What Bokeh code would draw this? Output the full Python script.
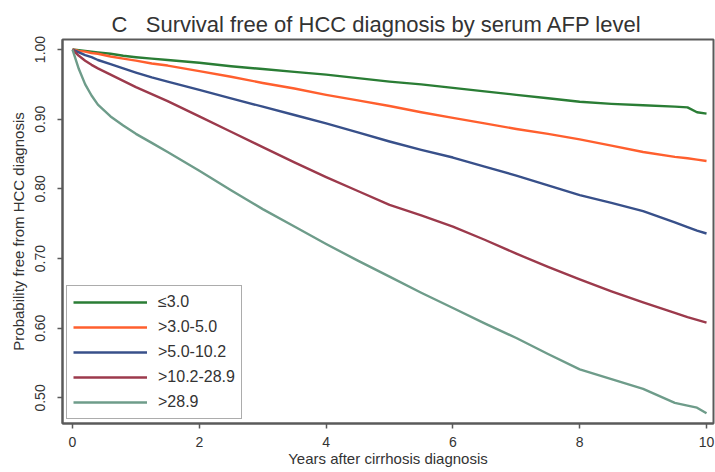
from bokeh.plotting import figure
from bokeh.models import Range1d, FixedTicker, NumeralTickFormatter, Legend, LegendItem
from bokeh.embed import file_html
from bokeh.resources import INLINE

# Kaplan-Meier style survival free of HCC, by serum AFP group
years = [0, 0.1, 0.2, 0.3, 0.4, 0.6, 0.8, 1.0, 1.25, 1.5, 2, 2.5, 3, 3.5, 4,
         4.5, 5, 5.5, 6, 6.5, 7, 7.5, 8, 8.5, 9, 9.5, 9.7, 9.85, 10]

afp_le3 = [1.000, 0.999, 0.998, 0.997, 0.996, 0.994, 0.991, 0.989, 0.987, 0.985,
           0.981, 0.976, 0.972, 0.968, 0.964, 0.959, 0.954, 0.950, 0.945, 0.940,
           0.935, 0.930, 0.925, 0.922, 0.920, 0.918, 0.917, 0.910, 0.908]
afp_3_5 = [1.000, 0.998, 0.997, 0.995, 0.994, 0.990, 0.987, 0.984, 0.980, 0.977,
           0.969, 0.961, 0.952, 0.944, 0.935, 0.927, 0.919, 0.910, 0.902, 0.894,
           0.886, 0.879, 0.871, 0.862, 0.853, 0.846, 0.844, 0.842, 0.840]
afp_5_10 = [1.000, 0.996, 0.992, 0.989, 0.985, 0.979, 0.973, 0.967, 0.960, 0.954,
            0.942, 0.930, 0.918, 0.906, 0.894, 0.881, 0.868, 0.856, 0.845, 0.832,
            0.819, 0.805, 0.791, 0.780, 0.768, 0.752, 0.745, 0.740, 0.736]
afp_10_29 = [1.000, 0.991, 0.984, 0.978, 0.973, 0.964, 0.955, 0.946, 0.936, 0.926,
             0.904, 0.882, 0.860, 0.838, 0.817, 0.797, 0.777, 0.762, 0.746, 0.727,
             0.707, 0.688, 0.670, 0.653, 0.637, 0.622, 0.616, 0.612, 0.608]
afp_gt29 = [1.000, 0.972, 0.950, 0.934, 0.921, 0.904, 0.891, 0.879, 0.866, 0.853,
            0.826, 0.798, 0.771, 0.746, 0.721, 0.697, 0.674, 0.651, 0.629, 0.607,
            0.586, 0.563, 0.541, 0.527, 0.513, 0.493, 0.489, 0.486, 0.478]

group_labels = ["\u22643.0", ">3.0-5.0", ">5.0-10.2", ">10.2-28.9", ">28.9"]
group_colors = ["#2a7d35", "#ff5f2e", "#38508a", "#9c3a4c", "#6e9c8a"]

x_ticks = [0, 2, 4, 6, 8, 10]
y_ticks = [0.5, 0.6, 0.7, 0.8, 0.9, 1.0]

FONT = "Liberation Sans"
TEXT = "#333333"

p = figure(width=715, height=472, output_backend="svg", toolbar_location=None,
           x_range=Range1d(-0.158, 10.11), y_range=Range1d(0.4633, 1.0144),
           min_border_left=62, min_border_right=2, min_border_top=39,
           min_border_bottom=49)

p.title.text = "C\u00a0\u00a0\u00a0Survival free of HCC diagnosis by serum AFP level"
p.title.text_font = FONT
p.title.text_font_size = "22px"
p.title.text_font_style = "normal"
p.title.text_color = TEXT
p.title.offset = 49
p.title.standoff = 6

p.grid.visible = False
p.outline_line_color = "#5a5a5a"
p.outline_line_width = 2
p.background_fill_color = "white"
p.border_fill_color = "white"

series = [afp_le3, afp_3_5, afp_5_10, afp_10_29, afp_gt29]
renderers = []
for vals, col in zip(series, group_colors):
    r = p.line(years, vals, line_color=col, line_width=2.4, line_join="round")
    renderers.append(r)

# Axes
for ax in (p.xaxis[0], p.yaxis[0]):
    ax.axis_line_color = "#5a5a5a"
    ax.axis_line_width = 2
    ax.major_tick_line_color = "#5a5a5a"
    ax.major_tick_line_width = 1.5
    ax.major_tick_out = 5
    ax.major_tick_in = 0
    ax.minor_tick_line_color = None
    ax.major_label_text_font = FONT
    ax.major_label_text_font_size = "14px"
    ax.major_label_text_color = TEXT
    ax.axis_label_text_font = FONT
    ax.axis_label_text_font_size = "15px"
    ax.axis_label_text_font_style = "normal"
    ax.axis_label_text_color = TEXT

p.xaxis.ticker = FixedTicker(ticks=x_ticks)
p.xaxis.axis_label = "Years after cirrhosis diagnosis"
p.xaxis.major_label_standoff = 8
p.xaxis.axis_label_standoff = 0

p.yaxis.ticker = FixedTicker(ticks=y_ticks)
p.yaxis.formatter = NumeralTickFormatter(format="0.00")
p.yaxis.major_label_orientation = "vertical"
p.yaxis.axis_label = "Probability free from HCC diagnosis"
p.yaxis.major_label_standoff = 12
p.yaxis.axis_label_standoff = 6

legend = Legend(
    items=[LegendItem(label=lab, renderers=[r]) for lab, r in zip(group_labels, renderers)],
    location=(4, 4),
    label_text_font=FONT,
    label_text_font_size="16px",
    label_text_color=TEXT,
    glyph_width=74,
    glyph_height=20,
    label_height=20,
    spacing=5,
    padding=6,
    margin=0,
    label_standoff=11,
    border_line_color="#5a5a5a",
    border_line_width=1.5,
    background_fill_color="white",
    background_fill_alpha=1.0,
)
p.add_layout(legend, "center")

open("out.html", "w").write(file_html(p, INLINE))
